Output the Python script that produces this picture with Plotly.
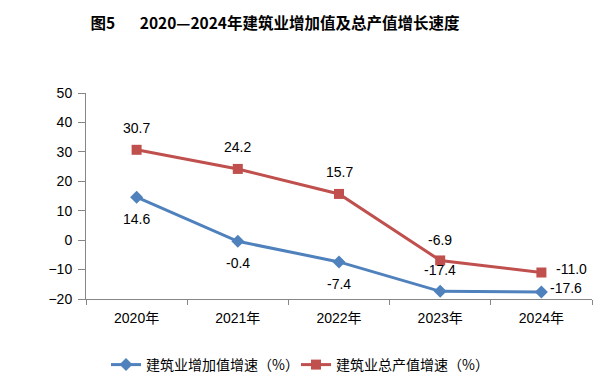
import plotly.graph_objects as go

years = ["2020年", "2021年", "2022年", "2023年", "2024年"]
added_value_growth = [14.6, -0.4, -7.4, -17.4, -17.6]
total_output_growth = [30.7, 24.2, 15.7, -6.9, -11.0]
series_names = ["建筑业增加值增速（%）", "建筑业总产值增速（%）"]
y_ticks = [-20, -10, 0, 10, 20, 30, 40, 50]

blue = "#4F81BD"
red = "#C0504D"
font_family = "Liberation Sans, Noto Sans CJK SC, sans-serif"

fig = go.Figure()
fig.add_trace(go.Scatter(x=years, y=added_value_growth, name=series_names[0], mode="lines+markers",
                         line=dict(color=blue, width=3), marker=dict(symbol="diamond", size=10, color=blue)))
fig.add_trace(go.Scatter(x=years, y=total_output_growth, name=series_names[1], mode="lines+markers",
                         line=dict(color=red, width=3), marker=dict(symbol="square", size=10, color=red)))

# label offsets (pixels)
blue_offsets = [(0, -22), (0, -22), (0, -22), (0, 21), (25, 4)]
red_offsets = [(0, 22), (0, 22), (0, 22), (0, 20), (30, 4)]
annos = []
for vals, offs in ((added_value_growth, blue_offsets), (total_output_growth, red_offsets)):
    for x, v, (dx, dy) in zip(years, vals, offs):
        annos.append(dict(x=x, y=v, text=f"{v:.1f}", showarrow=False, xshift=dx, yshift=dy,
                          font=dict(size=14, color="#000000", family=font_family)))

fig.update_layout(
    width=609, height=381,
    margin=dict(l=78, r=25, t=85, b=90),
    paper_bgcolor="white", plot_bgcolor="white",
    title=dict(text="<b>图5\u00a0\u00a0\u00a0\u00a0\u00a0\u00a0\u00a02020—2024年建筑业增加值及总产值增长速度</b>",
               x=267 / 609, xanchor="center", y=1 - 16 / 381, yanchor="middle",
               font=dict(size=15.5, color="#000000", family="Noto Sans CJK SC, sans-serif")),
    showlegend=True,
    legend=dict(orientation="h", x=(98 - 78) / 506, xanchor="left", yref="container", y=24 / 381,
                yanchor="middle", entrywidth=145, entrywidthmode="pixels",
                font=dict(size=14, color="#000000", family="Noto Sans CJK SC, sans-serif"),
                itemwidth=30, traceorder="normal"),
    annotations=annos,
    font=dict(family=font_family, size=14, color="#000000"),
)
fig.update_xaxes(type="category", range=[-0.5, 4.5], showline=True, linecolor="#868686", linewidth=1,
                 ticks="outside", tickson="boundaries", ticklen=5, tickcolor="#868686",
                 showgrid=False, zeroline=False, ticklabelstandoff=6,
                 tickfont=dict(size=14, family=font_family))
fig.update_yaxes(range=[-20, 50], tickvals=y_ticks, showline=True, linecolor="#868686", linewidth=1,
                 ticks="outside", ticklen=7, tickcolor="#868686", showgrid=False, zeroline=False,
                 ticklabelstandoff=3, tickfont=dict(size=14, family=font_family))

fig.write_html("out.html")
